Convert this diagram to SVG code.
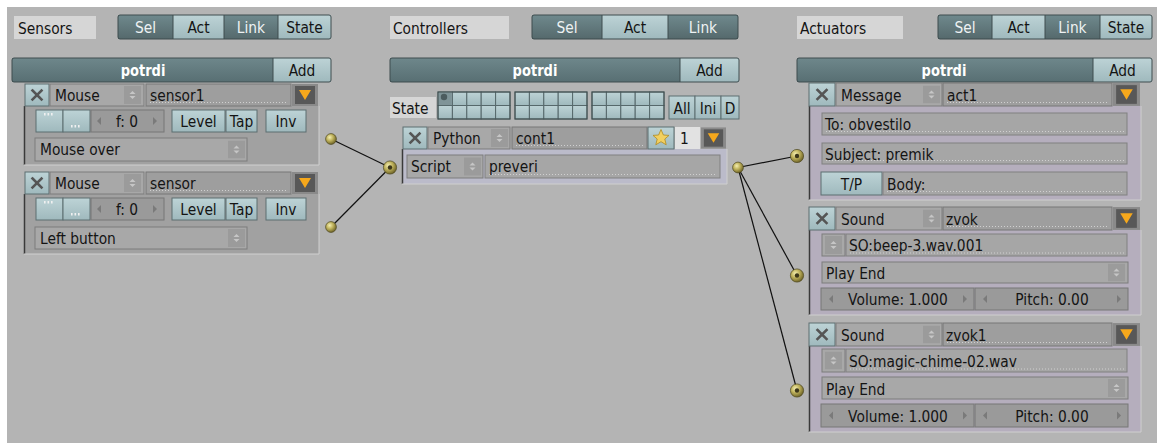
<svg xmlns="http://www.w3.org/2000/svg" width="1157" height="443" viewBox="0 0 1157 443">
<style>
.t{font-family:'DejaVu Sans','Liberation Sans',sans-serif;font-size:13.8px;fill:#141414;transform-box:fill-box;transform-origin:center;transform:scaleY(1.13)}
.c{text-anchor:middle}
.w{fill:#eef2f3}
.b{font-family:'DejaVu Sans Condensed','DejaVu Sans',sans-serif;font-stretch:semi-condensed;font-weight:bold;font-size:14.5px;fill:#ffffff;text-anchor:middle;transform-box:fill-box;transform-origin:center;transform:scaleY(1.12)}
.lbl{fill:#d6d6d6}
.dk{fill:url(#gDk)}
.lt{fill:url(#gLt);stroke:#5d6e70;stroke-width:1}
.bar{fill:url(#gBar)}
.ol{fill:none;stroke:#3e4c4e;stroke-width:1}
.sep{stroke:#3e4c4e;stroke-width:1}
.dd{fill:#a8a8a8;stroke:#7c7c7c;stroke-width:1}
.fld{fill:#9e9e9e;stroke:#777;stroke-width:1}
.fld2{fill:#a6a6a6;stroke:#808080;stroke-width:1}
.num{fill:#9a9a9a;stroke:#777;stroke-width:1}
.dot{stroke:#d0d0d0;stroke-width:1;stroke-dasharray:1 2}
.sbody{fill:#a1a1a1}
.cbody{fill:#bbbbca}
.abody{fill:#b5aebd}
.edge{stroke:#3a3a3a;stroke-width:1.5}
.hl{stroke:#cfcfcf;stroke-width:1;fill:none}
.xx{stroke:#555;stroke-width:2.6;stroke-linecap:square}
.tri{fill:#7a7a7a}
.wire{stroke:#111;stroke-width:1.2;fill:none}
.cell{fill:url(#gLt);stroke:#56686b;stroke-width:1}
</style>
<defs>
<linearGradient id="gDk" x1="0" y1="0" x2="0" y2="1"><stop offset="0" stop-color="#6f898d"/><stop offset="1" stop-color="#55696c"/></linearGradient>
<linearGradient id="gLt" x1="0" y1="0" x2="0" y2="1"><stop offset="0" stop-color="#bdd3d6"/><stop offset="1" stop-color="#9fb9bd"/></linearGradient>
<linearGradient id="gBar" x1="0" y1="0" x2="0" y2="1"><stop offset="0" stop-color="#6e878b"/><stop offset="1" stop-color="#586f73"/></linearGradient>
<radialGradient id="gBall" cx="0.38" cy="0.35" r="0.7"><stop offset="0" stop-color="#f4eeb0"/><stop offset="0.45" stop-color="#bfb25c"/><stop offset="1" stop-color="#665c22"/></radialGradient>
<symbol id="ud" viewBox="0 0 17 18"><rect x="0" y="0" width="17" height="18" fill="#9b9b9b"/><polygon points="5.5,8 8.5,5 11.5,8" fill="#c6c6c6"/><polygon points="5.5,10 8.5,13 11.5,10" fill="#c6c6c6"/></symbol>
<symbol id="org" viewBox="0 0 26 22"><rect x="0" y="0" width="26" height="22" fill="#8a8a8a"/><rect x="3" y="2" width="20" height="18" fill="#585858"/><polygon points="7,6 19,6 13,16" fill="#f6a81c"/></symbol>
</defs>
<rect x="0" y="0" width="1157" height="443" fill="#ffffff"/>
<rect x="7" y="7" width="1150" height="436" fill="#b4b4b4"/>

<g id="sensors-header">
<rect class="lbl" x="14" y="16" width="82" height="23"/>
<text class="t" x="18" y="33">Sensors</text>
<rect class="dk" x="118" y="15" width="55" height="24"/>
<rect fill="url(#gLt)" x="173" y="15" width="51" height="24"/>
<rect class="dk" x="224" y="15" width="54" height="24"/>
<rect fill="url(#gLt)" x="278" y="15" width="53" height="24"/>
<line class="sep" x1="173" y1="15" x2="173" y2="39"/><line class="sep" x1="224" y1="15" x2="224" y2="39"/><line class="sep" x1="278" y1="15" x2="278" y2="39"/>
<rect class="ol" x="118" y="15" width="213" height="24" rx="2"/>
<text class="t c w" x="145.5" y="32.5">Sel</text><text class="t c" x="198.5" y="32.5">Act</text><text class="t c w" x="251" y="32.5">Link</text><text class="t c" x="304.5" y="32.5">State</text>
<rect class="bar" x="12" y="58" width="261" height="24"/>
<rect fill="url(#gLt)" x="273" y="58" width="58" height="24"/>
<line class="sep" x1="273" y1="58" x2="273" y2="82"/>
<rect class="ol" x="12" y="58" width="319" height="24" rx="2"/>
<text class="b" x="143" y="75.5">potrdi</text><text class="t c" x="302" y="75.5">Add</text>
</g>

<g id="sensor1">
<rect class="sbody" x="24" y="106" width="295" height="59"/>
<line class="edge" x1="24.5" y1="106" x2="24.5" y2="165"/>
<polyline class="hl" points="24,165 319,165 319,106"/>
<rect class="lt" x="25" y="84" width="24" height="22"/>
<line class="xx" x1="32.5" y1="90.5" x2="41.5" y2="99.5"/><line class="xx" x1="41.5" y1="90.5" x2="32.5" y2="99.5"/>
<rect class="dd" x="50" y="84" width="94" height="22"/>
<text class="t" x="55" y="100.5">Mouse</text>
<use href="#ud" x="124" y="86" width="17" height="18"/>
<rect class="fld" x="146" y="84" width="145" height="22"/>
<line class="dot" x1="150" y1="102.5" x2="288" y2="102.5"/>
<text class="t" x="150" y="100.5">sensor1</text>
<use href="#org" x="292" y="84" width="26" height="22"/>
<rect class="lt" x="36" y="110" width="27" height="22"/>
<rect x="44" y="113" width="1.6" height="2.5" fill="#f0f0f0"/><rect x="47.5" y="113" width="1.6" height="2.5" fill="#f0f0f0"/><rect x="51" y="113" width="1.6" height="2.5" fill="#f0f0f0"/>
<rect class="lt" x="63" y="110" width="27" height="22"/>
<rect x="71" y="125" width="1.6" height="2.5" fill="#f0f0f0"/><rect x="74.5" y="125" width="1.6" height="2.5" fill="#f0f0f0"/><rect x="78" y="125" width="1.6" height="2.5" fill="#f0f0f0"/>
<rect class="num" x="91" y="110" width="73" height="22"/>
<polygon class="tri" points="101,117 101,125 97,121"/><polygon class="tri" points="153,117 153,125 157,121"/>
<text class="t c" x="127" y="126.5">f: 0</text>
<rect class="lt" x="172" y="110" width="53" height="22"/><text class="t c" x="198.5" y="126.5">Level</text>
<rect class="lt" x="226" y="110" width="31" height="22"/><text class="t c" x="241.5" y="126.5">Tap</text>
<rect class="lt" x="266" y="110" width="40" height="22"/><text class="t c" x="286" y="126.5">Inv</text>
<rect class="dd" x="35" y="138" width="212" height="23"/>
<text class="t" x="40" y="154.5">Mouse over</text>
<use href="#ud" x="228" y="140.5" width="17" height="18"/>
</g>

<g id="sensor2" transform="translate(0,88)">
<rect class="sbody" x="24" y="106" width="295" height="60"/>
<line class="edge" x1="24.5" y1="106" x2="24.5" y2="166"/>
<polyline class="hl" points="24,166 319,166 319,106"/>
<rect class="lt" x="25" y="84" width="24" height="22"/>
<line class="xx" x1="32.5" y1="90.5" x2="41.5" y2="99.5"/><line class="xx" x1="41.5" y1="90.5" x2="32.5" y2="99.5"/>
<rect class="dd" x="50" y="84" width="94" height="22"/>
<text class="t" x="55" y="100.5">Mouse</text>
<use href="#ud" x="124" y="86" width="17" height="18"/>
<rect class="fld" x="146" y="84" width="145" height="22"/>
<line class="dot" x1="150" y1="102.5" x2="288" y2="102.5"/>
<text class="t" x="150" y="100.5">sensor</text>
<use href="#org" x="292" y="84" width="26" height="22"/>
<rect class="lt" x="36" y="110" width="27" height="22"/>
<rect x="44" y="113" width="1.6" height="2.5" fill="#f0f0f0"/><rect x="47.5" y="113" width="1.6" height="2.5" fill="#f0f0f0"/><rect x="51" y="113" width="1.6" height="2.5" fill="#f0f0f0"/>
<rect class="lt" x="63" y="110" width="27" height="22"/>
<rect x="71" y="125" width="1.6" height="2.5" fill="#f0f0f0"/><rect x="74.5" y="125" width="1.6" height="2.5" fill="#f0f0f0"/><rect x="78" y="125" width="1.6" height="2.5" fill="#f0f0f0"/>
<rect class="num" x="91" y="110" width="73" height="22"/>
<polygon class="tri" points="101,117 101,125 97,121"/><polygon class="tri" points="153,117 153,125 157,121"/>
<text class="t c" x="127" y="126.5">f: 0</text>
<rect class="lt" x="172" y="110" width="53" height="22"/><text class="t c" x="198.5" y="126.5">Level</text>
<rect class="lt" x="226" y="110" width="31" height="22"/><text class="t c" x="241.5" y="126.5">Tap</text>
<rect class="lt" x="266" y="110" width="40" height="22"/><text class="t c" x="286" y="126.5">Inv</text>
<rect class="dd" x="35" y="139" width="212" height="22"/>
<text class="t" x="40" y="155.5">Left button</text>
<use href="#ud" x="228" y="141" width="17" height="18"/>
</g>

<g id="controllers-header">
<rect class="lbl" x="390" y="16" width="119" height="23"/>
<text class="t" x="393" y="33">Controllers</text>
<rect class="dk" x="532" y="15" width="70" height="24"/>
<rect fill="url(#gLt)" x="602" y="15" width="66" height="24"/>
<rect class="dk" x="668" y="15" width="70" height="24"/>
<line class="sep" x1="602" y1="15" x2="602" y2="39"/><line class="sep" x1="668" y1="15" x2="668" y2="39"/>
<rect class="ol" x="532" y="15" width="206" height="24" rx="2"/>
<text class="t c w" x="567" y="32.5">Sel</text><text class="t c" x="635" y="32.5">Act</text><text class="t c w" x="703" y="32.5">Link</text>
<rect class="bar" x="390" y="58" width="290" height="24"/>
<rect fill="url(#gLt)" x="680" y="58" width="59" height="24"/>
<line class="sep" x1="680" y1="58" x2="680" y2="82"/>
<rect class="ol" x="390" y="58" width="349" height="24" rx="2"/>
<text class="b" x="535" y="75.5">potrdi</text><text class="t c" x="709.5" y="75.5">Add</text>
<rect class="lbl" x="390" y="97" width="46" height="21"/>
<text class="t" x="392" y="113.5">State</text>
<g>
<rect class="cell" x="438" y="92" width="14.4" height="13.5"/><rect class="cell" x="452.4" y="92" width="14.4" height="13.5"/><rect class="cell" x="466.8" y="92" width="14.4" height="13.5"/><rect class="cell" x="481.2" y="92" width="14.4" height="13.5"/><rect class="cell" x="495.6" y="92" width="14.4" height="13.5"/>
<rect class="cell" x="438" y="105.5" width="14.4" height="13.5"/><rect class="cell" x="452.4" y="105.5" width="14.4" height="13.5"/><rect class="cell" x="466.8" y="105.5" width="14.4" height="13.5"/><rect class="cell" x="481.2" y="105.5" width="14.4" height="13.5"/><rect class="cell" x="495.6" y="105.5" width="14.4" height="13.5"/>
<rect x="438.5" y="92.5" width="13.4" height="12.5" fill="#7f9498"/><circle cx="444" cy="97" r="3.2" fill="#4c5c5f"/>
<rect class="ol" x="438" y="92" width="72" height="27"/>
</g>
<g>
<rect class="cell" x="515" y="92" width="14.4" height="13.5"/><rect class="cell" x="529.4" y="92" width="14.4" height="13.5"/><rect class="cell" x="543.8" y="92" width="14.4" height="13.5"/><rect class="cell" x="558.2" y="92" width="14.4" height="13.5"/><rect class="cell" x="572.6" y="92" width="14.4" height="13.5"/>
<rect class="cell" x="515" y="105.5" width="14.4" height="13.5"/><rect class="cell" x="529.4" y="105.5" width="14.4" height="13.5"/><rect class="cell" x="543.8" y="105.5" width="14.4" height="13.5"/><rect class="cell" x="558.2" y="105.5" width="14.4" height="13.5"/><rect class="cell" x="572.6" y="105.5" width="14.4" height="13.5"/>
<rect class="ol" x="515" y="92" width="72" height="27"/>
</g>
<g>
<rect class="cell" x="592" y="92" width="14.4" height="13.5"/><rect class="cell" x="606.4" y="92" width="14.4" height="13.5"/><rect class="cell" x="620.8" y="92" width="14.4" height="13.5"/><rect class="cell" x="635.2" y="92" width="14.4" height="13.5"/><rect class="cell" x="649.6" y="92" width="14.4" height="13.5"/>
<rect class="cell" x="592" y="105.5" width="14.4" height="13.5"/><rect class="cell" x="606.4" y="105.5" width="14.4" height="13.5"/><rect class="cell" x="620.8" y="105.5" width="14.4" height="13.5"/><rect class="cell" x="635.2" y="105.5" width="14.4" height="13.5"/><rect class="cell" x="649.6" y="105.5" width="14.4" height="13.5"/>
<rect class="ol" x="592" y="92" width="72" height="27"/>
</g>
<rect class="lt" x="669" y="96" width="26" height="23"/><text class="t c" x="682" y="113">All</text>
<rect class="lt" x="695" y="96" width="26" height="23"/><text class="t c" x="708" y="113">Ini</text>
<rect class="lt" x="721" y="96" width="18" height="23"/><text class="t c" x="730" y="113">D</text>
</g>

<g id="cont1">
<rect class="cbody" x="402" y="149" width="325" height="35"/>
<line class="edge" x1="402.5" y1="149" x2="402.5" y2="184"/>
<polyline class="hl" points="402,184 727,184 727,149"/>
<rect class="lt" x="403" y="127" width="24" height="22"/>
<line class="xx" x1="410.5" y1="133.5" x2="419.5" y2="142.5"/><line class="xx" x1="419.5" y1="133.5" x2="410.5" y2="142.5"/>
<rect class="dd" x="428" y="127" width="82" height="22"/>
<text class="t" x="433" y="143.5">Python</text>
<use href="#ud" x="491" y="129" width="17" height="18"/>
<rect class="fld" x="512" y="127" width="135" height="22"/>
<line class="dot" x1="516" y1="145.5" x2="644" y2="145.5"/>
<text class="t" x="516" y="143.5">cont1</text>
<rect class="lt" x="648" y="127" width="26" height="22"/>
<polygon points="661,129.5 663.4,135 669,135.4 664.8,139 666.2,144.8 661,141.7 655.8,144.8 657.2,139 653,135.4 658.6,135" fill="#f2d060" stroke="#b08a20" stroke-width="0.8"/>
<rect x="675" y="127" width="25" height="22" fill="#e2e2e2"/>
<text class="t" x="680" y="143.5">1</text>
<use href="#org" x="701" y="127" width="25" height="22"/>
<rect class="dd" x="407" y="155" width="76" height="23"/>
<text class="t" x="411" y="171.5">Script</text>
<use href="#ud" x="464" y="157" width="17" height="19"/>
<rect class="fld2" x="485" y="155" width="235" height="23"/>
<line class="dot" x1="489" y1="174.5" x2="716" y2="174.5"/>
<text class="t" x="489" y="171.5">preveri</text>
</g>

<g id="actuators-header">
<rect class="lbl" x="797" y="16" width="106" height="23"/>
<text class="t" x="800" y="33">Actuators</text>
<rect class="dk" x="938" y="15" width="54" height="24"/>
<rect fill="url(#gLt)" x="992" y="15" width="53" height="24"/>
<rect class="dk" x="1045" y="15" width="55" height="24"/>
<rect fill="url(#gLt)" x="1100" y="15" width="52" height="24"/>
<line class="sep" x1="992" y1="15" x2="992" y2="39"/><line class="sep" x1="1045" y1="15" x2="1045" y2="39"/><line class="sep" x1="1100" y1="15" x2="1100" y2="39"/>
<rect class="ol" x="938" y="15" width="214" height="24" rx="2"/>
<text class="t c w" x="965" y="32.5">Sel</text><text class="t c" x="1018.5" y="32.5">Act</text><text class="t c w" x="1072.5" y="32.5">Link</text><text class="t c" x="1126" y="32.5">State</text>
<rect class="bar" x="797" y="58" width="296" height="24"/>
<rect fill="url(#gLt)" x="1093" y="58" width="59" height="24"/>
<line class="sep" x1="1093" y1="58" x2="1093" y2="82"/>
<rect class="ol" x="797" y="58" width="355" height="24" rx="2"/>
<text class="b" x="944" y="75.5">potrdi</text><text class="t c" x="1122.5" y="75.5">Add</text>
</g>

<g id="act1">
<rect class="abody" x="809" y="106" width="332" height="94"/>
<line class="edge" x1="809.5" y1="106" x2="809.5" y2="200"/>
<polyline class="hl" points="809,200 1141,200 1141,106"/>
<rect class="lt" x="809" y="83" width="26" height="23"/>
<line class="xx" x1="817.5" y1="90" x2="826.5" y2="99"/><line class="xx" x1="826.5" y1="90" x2="817.5" y2="99"/>
<rect class="dd" x="836" y="83" width="106" height="23"/>
<text class="t" x="841" y="100">Message</text>
<use href="#ud" x="923" y="85.5" width="17" height="18"/>
<rect class="fld" x="943" y="83" width="169" height="23"/>
<line class="dot" x1="947" y1="102.5" x2="1109" y2="102.5"/>
<text class="t" x="947" y="100">act1</text>
<use href="#org" x="1113" y="83" width="27" height="23"/>
<rect class="fld2" x="822" y="113" width="305" height="22"/>
<line class="dot" x1="826" y1="131.5" x2="1124" y2="131.5"/>
<text class="t" x="825" y="129.5">To: obvestilo</text>
<rect class="fld2" x="822" y="143" width="305" height="21"/>
<line class="dot" x1="826" y1="160.5" x2="1124" y2="160.5"/>
<text class="t" x="825" y="159">Subject: premik</text>
<rect class="lt" x="821" y="172" width="61" height="23"/><text class="t c" x="851.5" y="189">T/P</text>
<rect class="fld2" x="883" y="172" width="244" height="23"/>
<line class="dot" x1="887" y1="191.5" x2="1124" y2="191.5"/>
<text class="t" x="887" y="189">Body:</text>
</g>

<g id="zvok">
<rect class="abody" x="809" y="230" width="332" height="85"/>
<line class="edge" x1="809.5" y1="230" x2="809.5" y2="315"/>
<polyline class="hl" points="809,315 1141,315 1141,230"/>
<rect class="lt" x="809" y="207" width="26" height="23"/>
<line class="xx" x1="817.5" y1="214" x2="826.5" y2="223"/><line class="xx" x1="826.5" y1="214" x2="817.5" y2="223"/>
<rect class="dd" x="836" y="207" width="106" height="23"/>
<text class="t" x="841" y="224">Sound</text>
<use href="#ud" x="923" y="209.5" width="17" height="18"/>
<rect class="fld" x="943" y="207" width="169" height="23"/>
<line class="dot" x1="947" y1="226.5" x2="1109" y2="226.5"/>
<text class="t" x="946" y="224">zvok</text>
<use href="#org" x="1113" y="207" width="27" height="23"/>
<rect class="dd" x="822" y="234" width="23" height="22"/>
<use href="#ud" x="825" y="236" width="17" height="18"/>
<rect class="fld2" x="846" y="234" width="281" height="22"/>
<line class="dot" x1="850" y1="253" x2="1124" y2="253"/>
<text class="t" x="849" y="250.5">SO:beep-3.wav.001</text>
<rect class="dd" x="822" y="262" width="306" height="21"/>
<text class="t" x="826" y="278.5">Play End</text>
<use href="#ud" x="1108" y="263.5" width="17" height="18"/>
<rect class="num" x="821" y="288" width="153" height="22"/>
<polygon class="tri" points="833,295 833,303 829,299"/><polygon class="tri" points="963,295 963,303 967,299"/>
<text class="t c" x="898" y="304.5">Volume: 1.000</text>
<rect class="num" x="975" y="288" width="153" height="22"/>
<polygon class="tri" points="987,295 987,303 983,299"/><polygon class="tri" points="1117,295 1117,303 1121,299"/>
<text class="t c" x="1052" y="304.5">Pitch: 0.00</text>
</g>

<g id="zvok1" transform="translate(0,116)">
<rect class="abody" x="809" y="230" width="332" height="86"/>
<line class="edge" x1="809.5" y1="230" x2="809.5" y2="316"/>
<polyline class="hl" points="809,316 1141,316 1141,230"/>
<rect class="lt" x="809" y="207" width="26" height="23"/>
<line class="xx" x1="817.5" y1="214" x2="826.5" y2="223"/><line class="xx" x1="826.5" y1="214" x2="817.5" y2="223"/>
<rect class="dd" x="836" y="207" width="106" height="23"/>
<text class="t" x="841" y="224">Sound</text>
<use href="#ud" x="923" y="209.5" width="17" height="18"/>
<rect class="fld" x="943" y="207" width="169" height="23"/>
<line class="dot" x1="947" y1="226.5" x2="1109" y2="226.5"/>
<text class="t" x="946" y="224">zvok1</text>
<use href="#org" x="1113" y="207" width="27" height="23"/>
<rect class="dd" x="822" y="233" width="23" height="23"/>
<use href="#ud" x="825" y="235.5" width="17" height="18"/>
<rect class="fld2" x="846" y="233" width="281" height="23"/>
<line class="dot" x1="850" y1="253" x2="1124" y2="253"/>
<text class="t" x="849" y="250">SO:magic-chime-02.wav</text>
<rect class="dd" x="822" y="261" width="306" height="22"/>
<text class="t" x="826" y="278">Play End</text>
<use href="#ud" x="1108" y="263" width="17" height="18"/>
<rect class="num" x="821" y="288" width="153" height="23"/>
<polygon class="tri" points="833,295.5 833,303.5 829,299.5"/><polygon class="tri" points="963,295.5 963,303.5 967,299.5"/>
<text class="t c" x="898" y="305">Volume: 1.000</text>
<rect class="num" x="975" y="288" width="153" height="23"/>
<polygon class="tri" points="987,295.5 987,303.5 983,299.5"/><polygon class="tri" points="1117,295.5 1117,303.5 1121,299.5"/>
<text class="t c" x="1052" y="305">Pitch: 0.00</text>
</g>

<g id="connectors">
<line class="wire" x1="331" y1="139" x2="390" y2="167.5"/>
<line class="wire" x1="331" y1="227" x2="390" y2="167.5"/>
<line class="wire" x1="738" y1="167.5" x2="797" y2="156"/>
<line class="wire" x1="738" y1="167.5" x2="797" y2="275.5"/>
<line class="wire" x1="738" y1="167.5" x2="797" y2="390.5"/>
<circle cx="331" cy="139" r="5.4" fill="url(#gBall)" stroke="#4e4720" stroke-width="0.7"/>
<circle cx="331" cy="227" r="5.4" fill="url(#gBall)" stroke="#4e4720" stroke-width="0.7"/>
<circle cx="738" cy="167.5" r="5.4" fill="url(#gBall)" stroke="#4e4720" stroke-width="0.7"/>
<circle cx="390" cy="167.5" r="6.6" fill="url(#gBall)" stroke="#4e4720" stroke-width="0.7"/><circle cx="390" cy="167.5" r="2.2" fill="#3c361a"/>
<circle cx="797" cy="156" r="6.6" fill="url(#gBall)" stroke="#4e4720" stroke-width="0.7"/><circle cx="797" cy="156" r="2.2" fill="#3c361a"/>
<circle cx="797" cy="275.5" r="6.6" fill="url(#gBall)" stroke="#4e4720" stroke-width="0.7"/><circle cx="797" cy="275.5" r="2.2" fill="#3c361a"/>
<circle cx="797" cy="390.5" r="6.6" fill="url(#gBall)" stroke="#4e4720" stroke-width="0.7"/><circle cx="797" cy="390.5" r="2.2" fill="#3c361a"/>
</g>
</svg>
